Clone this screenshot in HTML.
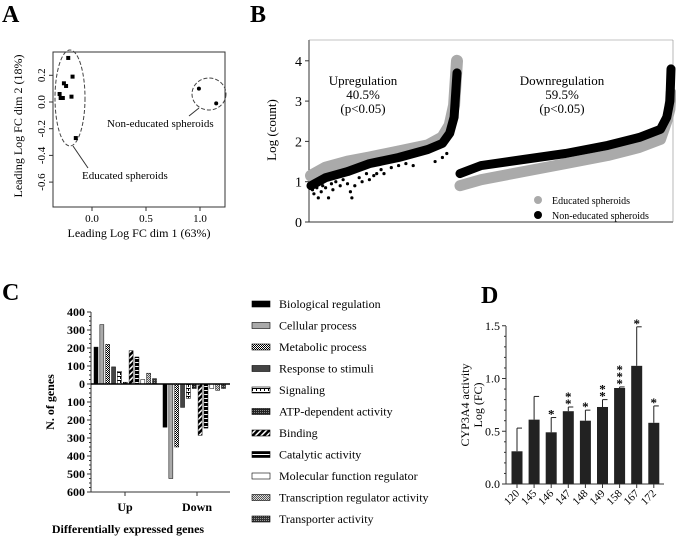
<!DOCTYPE html>
<html><head><meta charset="utf-8"><style>
html,body{margin:0;padding:0;background:#fff}
svg{display:block}
svg text{font-family:"Liberation Serif","DejaVu Serif",serif}
</style></head><body>
<svg id="fig" width="676" height="538" viewBox="0 0 676 538" font-family="Liberation Serif, serif">
<defs>
<pattern id="pMet" width="2" height="2" patternUnits="userSpaceOnUse"><rect width="2" height="2" fill="#fff"/><rect width="1" height="1" fill="#000"/><rect x="1" y="1" width="1" height="1" fill="#000"/></pattern>
<pattern id="pSig" width="4" height="4" patternUnits="userSpaceOnUse"><rect width="4" height="4" fill="#fff"/><rect width="4" height="1" fill="#000"/><rect x="0" y="1" width="1" height="2" fill="#000"/></pattern>
<pattern id="pAtp" width="2" height="2" patternUnits="userSpaceOnUse"><rect width="2" height="2" fill="#222"/><rect width="1" height="1" fill="#888"/></pattern>
<pattern id="pBin" width="4" height="4" patternUnits="userSpaceOnUse" patternTransform="rotate(45)"><rect width="4" height="4" fill="#000"/><rect width="1.5" height="4" fill="#fff"/></pattern>
<pattern id="pCat" width="4" height="4" patternUnits="userSpaceOnUse"><rect width="4" height="4" fill="#000"/><rect y="2" width="4" height="1" fill="#fff"/></pattern>
<pattern id="pTra" width="2" height="2" patternUnits="userSpaceOnUse"><rect width="2" height="2" fill="#ddd"/><rect width="1" height="1" fill="#555"/><rect x="1" y="1" width="1" height="1" fill="#555"/></pattern>
<pattern id="pTrp" width="2" height="2" patternUnits="userSpaceOnUse"><rect width="2" height="2" fill="#333"/><rect width="1" height="1" fill="#999"/></pattern>
</defs>
<g id="panelA"></g>
<g id="panelB"></g>
<g id="panelC"></g>
<g id="panelD"></g>
</svg>
<script>
// ---- Panel A data ----
const aEduX = [-0.22,-0.18,-0.26,-0.24,-0.30,-0.29,-0.27,-0.19,-0.15];
const aEduY = [0.33,0.19,0.14,0.12,0.06,0.03,0.03,0.04,-0.27];
const aNonX = [0.99,1.15];
const aNonY = [0.10,-0.01];
const aXTicks = [0.0,0.5,1.0];
const aYTicks = [0.2,0.0,-0.2,-0.4,-0.6];
// ---- Panel B data (curve samples, fraction along section) ----
const bFrac = [0,0.1,0.25,0.4,0.6,0.8,0.9,0.95,0.98,1.0];
const bUpEdu = [1.15,1.35,1.5,1.6,1.75,1.9,2.1,2.4,2.9,4.0];
const bUpNon = [0.9,1.1,1.25,1.45,1.6,1.8,1.95,2.2,2.6,3.7];
const bFracD = [0,0.1,0.3,0.5,0.7,0.85,0.95,0.98,0.995,1.0];
const bDnNon = [1.2,1.4,1.55,1.7,1.9,2.1,2.3,2.6,3.0,3.8];
const bDnEdu = [0.9,1.05,1.25,1.45,1.65,1.85,2.05,2.5,2.8,3.2];
const bOutUpFrac = [0.01,0.02,0.04,0.05,0.07,0.08,0.1,0.12,0.14,0.15,0.17,0.2,0.22,0.25,0.27,0.28,0.3,0.33,0.35,0.38,0.4,0.43,0.45,0.48,0.5,0.55,0.6,0.65,0.7,0.85,0.9,0.93];
const bOutUpVal = [0.8,0.7,0.85,0.6,0.75,0.9,0.85,0.6,0.95,0.8,1.0,0.9,1.05,0.95,0.75,0.6,0.9,1.1,1.0,1.2,1.05,1.15,1.2,1.3,1.2,1.35,1.4,1.45,1.4,1.5,1.6,1.7];
const bYTicks = [0,1,2,3,4];
// ---- Panel C data ----
const cCats = ["Biological regulation","Cellular process","Metabolic process","Response to stimuli","Signaling","ATP-dependent activity","Binding","Catalytic activity","Molecular function regulator","Transcription regulator activity","Transporter activity"];
const cUp = [205,330,220,95,70,10,185,150,25,60,30];
const cDown = [240,525,350,130,80,25,285,245,25,35,25];
const cYTicks = [400,300,200,100,0,100,200,300,400,500,600];
const cFills = ["#000","#aaa","url(#pMet)","#444","url(#pSig)","url(#pAtp)","url(#pBin)","url(#pCat)","#fff","url(#pTra)","url(#pTrp)"];
// ---- Panel D data ----
const dCats = ["120","145","146","147","148","149","158","167","172"];
const dVals = [0.31,0.61,0.49,0.69,0.60,0.73,0.91,1.12,0.58];
const dErr = [0.53,0.83,0.63,0.73,0.70,0.80,0.92,1.49,0.74];
const dStars = [0,0,1,2,1,2,3,1,1];
const dYTicks = [0.0,0.5,1.0,1.5];

const NS="http://www.w3.org/2000/svg";
function mk(parent,tag,attrs,text){const e=document.createElementNS(NS,tag);for(const k in attrs)e.setAttribute(k,attrs[k]);if(text!==undefined)e.textContent=text;parent.appendChild(e);return e;}

// ===== Panel A =====
(function(){
const g=document.getElementById('panelA');
const ax=v=>92+v*108, ay=v=>102-v*133.5;
let t=mk(g,'text',{x:2,y:22,'font-size':24,'font-weight':'bold'},'A');


let box=mk(g,'rect',{x:53,y:52,width:172,height:155,fill:'none',stroke:'#333','stroke-width':1});


aXTicks.forEach(v=>{
 mk(g,'line',{x1:ax(v),x2:ax(v),y1:207,y2:211,stroke:'#333'});
 const l=mk(g,'text',{x:ax(v),y:222,'font-size':11,'text-anchor':'middle'},v.toFixed(1));
 
 
});
aYTicks.forEach(v=>{
 mk(g,'line',{x1:49,x2:53,y1:ay(v),y2:ay(v),stroke:'#333'});
 const l=mk(g,'text',{x:0,y:0,'font-size':11,'text-anchor':'middle',transform:`translate(45,${ay(v)}) rotate(-90)`},v.toFixed(1));
 
 
});
let xt=mk(g,'text',{x:139,y:237,'font-size':12,'text-anchor':'middle'},'Leading Log FC dim 1 (63%)');


let yt=mk(g,'text',{x:0,y:0,'font-size':12,'text-anchor':'middle',transform:'translate(22,126) rotate(-90)'},'Leading Log FC dim 2 (18%)');


let e1=mk(g,'ellipse',{cx:70,cy:98,rx:15,ry:48,fill:'none',stroke:'#444','stroke-dasharray':'4,2'});


let e2=mk(g,'ellipse',{cx:209,cy:94,rx:17,ry:16,fill:'none',stroke:'#444','stroke-dasharray':'4,2'});


mk(g,'line',{x1:73,y1:146,x2:88,y2:168,stroke:'#333'});
mk(g,'line',{x1:189,y1:116,x2:199,y2:108,stroke:'#333'});
let l1=mk(g,'text',{x:107,y:127,'font-size':11},'Non-educated spheroids');


let l2=mk(g,'text',{x:82,y:179,'font-size':11},'Educated spheroids');


aEduX.forEach((v,i)=>{
 const p=mk(g,'rect',{x:ax(v)-2,y:ay(aEduY[i])-2,width:4,height:4,fill:'#000'});
 
 
});
aNonX.forEach((v,i)=>{
 const p=mk(g,'circle',{cx:ax(v),cy:ay(aNonY[i]),r:2,fill:'#000'});
 
 
});
})();

// ===== Panel B =====
(function(){
const g=document.getElementById('panelB');
const by=v=>222-v*40.3;
const upX=f=>311+f*146, dnX=f=>460+f*211;
let t=mk(g,'text',{x:250,y:22,'font-size':24,'font-weight':'bold'},'B');


mk(g,'line',{x1:309,y1:40,x2:309,y2:222,stroke:'#333'});
mk(g,'line',{x1:309,y1:222,x2:673,y2:222,stroke:'#333'});
mk(g,'line',{x1:309,y1:40,x2:673,y2:40,stroke:'#888','stroke-width':0.6});
mk(g,'line',{x1:673,y1:40,x2:673,y2:222,stroke:'#888','stroke-width':0.6});
bYTicks.forEach(v=>{
 mk(g,'line',{x1:305,x2:309,y1:by(v),y2:by(v),stroke:'#333'});
 const l=mk(g,'text',{x:302,y:by(v)+5,'font-size':14,'text-anchor':'end'},String(v));
 
 
});
let yt=mk(g,'text',{x:0,y:0,'font-size':13,'text-anchor':'middle',transform:'translate(276,130) rotate(-90)'},'Log (count)');


function band(fr,vals,xf,col,w,name){
 const pts=fr.map((f,i)=>xf(f).toFixed(1)+','+by(vals[i]).toFixed(1)).join(' ');
 const p=mk(g,'polyline',{points:pts,fill:'none',stroke:col,'stroke-width':w,'stroke-linejoin':'round','stroke-linecap':'round'});
 
 
}
band(bFrac,bUpEdu,upX,'#aaa',12,'up-educated-series');
band(bFrac,bUpNon,upX,'#000',9,'up-non-educated-series');
band(bFracD,bDnEdu,dnX,'#aaa',11,'down-educated-series');
band(bFracD,bDnNon,dnX,'#000',9,'down-non-educated-series');
bOutUpFrac.forEach((f,i)=>{
 const c=mk(g,'circle',{cx:upX(f),cy:by(bOutUpVal[i]),r:1.6,fill:'#000'});
 
 
});
const ann=[[363,'Upregulation','40.5%'],[562,'Downregulation','59.5%']];
ann.forEach(a=>{
 [a[1],a[2],'(p<0.05)'].forEach((s,j)=>{
  const l=mk(g,'text',{x:a[0],y:85+j*14,'font-size':13,'text-anchor':'middle'},s);
  
  
 });
});
[['#aaa','Educated spheroids',200],['#000','Non-educated spheroids',215]].forEach(r=>{
 const c=mk(g,'circle',{cx:538,cy:r[2],r:4,fill:r[0]});
 
 
 const l=mk(g,'text',{x:552,y:r[2]+4,'font-size':10},r[1]);
 
 
});
})();

// ===== Panel C =====
(function(){
const g=document.getElementById('panelC');
const cy=v=>384-v*0.18;
let t=mk(g,'text',{x:2,y:300,'font-size':24,'font-weight':'bold'},'C');


mk(g,'line',{x1:91,y1:312,x2:91,y2:492,stroke:'#333'});
mk(g,'line',{x1:91,y1:492,x2:230,y2:492,stroke:'#333'});
cYTicks.forEach((v,i)=>{
 const y=312+i*18;
 mk(g,'line',{x1:87,x2:91,y1:y,y2:y,stroke:'#333'});
 if(i<cYTicks.length-1){for(let k=1;k<4;k++)mk(g,'line',{x1:89,x2:91,y1:y+k*4.5,y2:y+k*4.5,stroke:'#333'});}
 const l=mk(g,'text',{x:85,y:y+4,'font-size':12,'font-weight':'bold','text-anchor':'end'},String(v));
 
 
});
[[125,'Up'],[197,'Down']].forEach(c=>{
 mk(g,'line',{x1:c[0],x2:c[0],y1:492,y2:496,stroke:'#333'});
 const l=mk(g,'text',{x:c[0],y:511,'font-size':12,'font-weight':'bold','text-anchor':'middle'},c[1]);
 
 
});
let xt=mk(g,'text',{x:128,y:533,'font-size':12,'font-weight':'bold','text-anchor':'middle'},'Differentially expressed genes');


let yt=mk(g,'text',{x:0,y:0,'font-size':12,'font-weight':'bold','text-anchor':'middle',transform:'translate(54,402) rotate(-90)'},'N. of genes');


const step=5.85,bw=4;
cUp.forEach((v,i)=>{
 const b=mk(g,'rect',{x:94+i*step,y:cy(v),width:bw,height:v*0.18,fill:cFills[i],stroke:'#000','stroke-width':0.5});
 
 
});
cDown.forEach((v,i)=>{
 const b=mk(g,'rect',{x:163+i*step,y:384,width:bw,height:v*0.18,fill:cFills[i],stroke:'#000','stroke-width':0.5});
 
 
});
mk(g,'line',{x1:91,y1:384,x2:230,y2:384,stroke:'#000','stroke-width':1.5});
cCats.forEach((c,i)=>{
 const y=304+i*21.5;
 const s=mk(g,'rect',{x:252,y:y-3,width:18,height:6,fill:cFills[i],stroke:'#000','stroke-width':0.6});
 
 
 const l=mk(g,'text',{x:279,y:y+4,'font-size':12},c);
 
 
});
})();

// ===== Panel D =====
(function(){
const g=document.getElementById('panelD');
const dy=v=>484-v*105.5;
let t=mk(g,'text',{x:481,y:303,'font-size':24,'font-weight':'bold'},'D');


mk(g,'line',{x1:506,y1:326,x2:506,y2:484,stroke:'#333'});
mk(g,'line',{x1:506,y1:484,x2:664,y2:484,stroke:'#333'});
dYTicks.forEach((v,i)=>{
 mk(g,'line',{x1:502,x2:506,y1:dy(v),y2:dy(v),stroke:'#333'});
 if(i<dYTicks.length-1){for(let k=1;k<5;k++)mk(g,'line',{x1:504,x2:506,y1:dy(v+k*0.1),y2:dy(v+k*0.1),stroke:'#333'});}
 const l=mk(g,'text',{x:500,y:dy(v)+4,'font-size':12,'text-anchor':'end'},v.toFixed(1));
 
 
});
let y1=mk(g,'text',{x:0,y:0,'font-size':12,'text-anchor':'middle',transform:'translate(469,405) rotate(-90)'},'CYP3A4 activity');


let y2=mk(g,'text',{x:0,y:0,'font-size':12,'text-anchor':'middle',transform:'translate(482,405) rotate(-90)'},'Log (FC)');


const step=17.1,x0=517,bw=11;
dVals.forEach((v,i)=>{
 const cx=x0+i*step;
 mk(g,'line',{x1:cx,x2:cx,y1:dy(v),y2:dy(dErr[i]),stroke:'#222','stroke-width':1});
 mk(g,'line',{x1:cx,x2:cx+5,y1:dy(dErr[i]),y2:dy(dErr[i]),stroke:'#222','stroke-width':1});
 const b=mk(g,'rect',{x:cx-bw/2,y:dy(v),width:bw,height:v*105.5,fill:'#222'});
 
 
 for(let k=0;k<dStars[i];k++){
  const s=mk(g,'text',{x:cx,y:dy(dErr[i])+1-k*7,'font-size':13,'font-weight':'bold','text-anchor':'middle'},'*');
  
  
 }
 mk(g,'line',{x1:cx,x2:cx,y1:484,y2:488,stroke:'#333'});
 const l=mk(g,'text',{x:0,y:0,'font-size':11,'text-anchor':'end',transform:`translate(${cx+3},494) rotate(-45)`},dCats[i]);
 
 
});
})();
</script>
</body></html>
